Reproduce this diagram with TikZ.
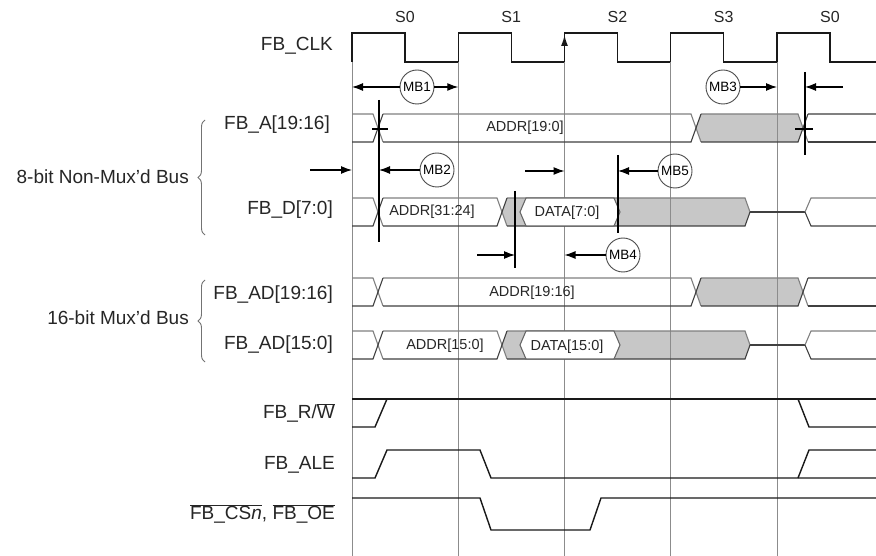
\documentclass[tikz,border=0pt]{standalone}
\usepackage{fontspec}
\setmainfont{Liberation Sans}
\usetikzlibrary{arrows.meta,decorations.pathreplacing}

\tikzset{
    wave/.style = {black!90, line width=1.4pt},
    gridline/.style = {black!45, line width=1pt},
    bus/.style = {black!75, line width=1.1pt},
    busgray/.style = {fill=black!22},
    meas/.style = {black, line width=1.2pt, -{Latex[length=11pt,width=8pt]}},
    markline/.style = {black, line width=1.3pt},
    mbcircle/.style = {shape=circle, draw=black!70, line width=0.9pt, minimum size=34pt, inner sep=0pt, font=\fontsize{13.5}{14}\selectfont},
    siglabel/.style = {anchor=east, inner sep=0pt, text=black!85, font=\fontsize{19}{21}\selectfont},
    buslabel/.style = {inner sep=0pt, text=black!85, font=\fontsize{14.5}{15}\selectfont},
    statelabel/.style = {inner sep=0pt, text=black!85, font=\fontsize{16}{16}\selectfont},
    bracket/.style = {black!55, line width=0.9pt, decorate, decoration={brace, amplitude=7pt}}
}

\begin{document}
\begin{tikzpicture}[x=1pt, y=-1pt]
    \path[fill=white, use as bounding box] (0,0) rectangle (876,556);

    % clock and bus states
    \draw[wave] (352,62) \foreach \i in {0,...,4} { -- ({352+106.25*\i},33) -- ({405+106.25*\i},33) -- ({405+106.25*\i},62) -- ({458.25+106.25*\i},62) };
    \foreach \s [count=\i from 0] in {S0,S1,S2,S3,S0}
        \node[statelabel] (s\i) at ({405+106.25*\i},17) {\s};
    \foreach \i in {0,...,4}
        \coordinate (e\i) at ({352+106.25*\i},62);

    % gray fills
    \foreach \yc in {128,292} {
        \fill[busgray] (696,\yc) -- (701,\yc-14) -- (798,\yc-14) -- (803,\yc) -- (798,\yc+14) -- (701,\yc+14) -- cycle;
    }
    \foreach \yc in {212,345} {
        \fill[busgray] (502,\yc) -- (507,\yc-14) -- (745,\yc-14) -- (750,\yc) -- (745,\yc+14) -- (507,\yc+14) -- cycle;
    }

    % grid at rising edges
    \foreach \i in {0,...,4}
        \draw[gridline] (e\i) -- ({352+106.25*\i},556);
    \draw[wave, -{Latex[length=11pt,width=7pt]}] (e2) -- ++(0,-27);

    % address buses
    \foreach \yc in {128,292} {
        \begin{scope}[shift={(0,\yc)}]
            \draw[bus, black!50] (352,-14) -- (373,-14) -- (383,14);
            \draw[bus, black!50] (383,-14) -- (691,-14) -- (701,14);
            \draw[bus, black!50] (701,-14) -- (798,-14) -- (808,14);
            \draw[bus, black!50] (808,-14) -- (876,-14);
            \draw[bus] (352,14) -- (373,14) -- (383,-14);
            \draw[bus] (383,14) -- (691,14) -- (701,-14);
            \draw[bus] (701,14) -- (798,14) -- (808,-14);
            \draw[bus] (808,14) -- (876,14);
        \end{scope}
    }
    % data buses
    \foreach \yc in {212,345} {
        \begin{scope}[shift={(0,\yc)}]
            \draw[bus, black!50] (352,-14) -- (373,-14) -- (383,14);
            \draw[bus, black!50] (383,-14) -- (497,-14) -- (507,14);
            \draw[bus, black!50] (507,-14) -- (745,-14) -- (750,0);
            \draw[bus] (352,14) -- (373,14) -- (383,-14);
            \draw[bus] (383,14) -- (497,14) -- (507,-14);
            \draw[bus] (507,14) -- (745,14) -- (750,0);
            \filldraw[bus, draw=black!60, fill=white] (520,0) -- (526,-14) -- (614,-14) -- (620,0) -- (614,14) -- (526,14) -- cycle;
            \draw[bus] (750,0) -- (805,0);
            \draw[bus, black!50] (805,0) -- (811,-14) -- (876,-14);
            \draw[bus] (805,0) -- (811,14) -- (876,14);
        \end{scope}
    }
    \node[buslabel] (addra) at (525,128) {ADDR[19:0]};
    \node[buslabel] (addrd) at (432,212) {ADDR[31:24]};
    \node[buslabel] (datad) at (567,213) {DATA[7:0]};
    \node[buslabel] (addrh) at (532,293) {ADDR[19:16]};
    \node[buslabel] (addrl) at (445,346) {ADDR[15:0]};
    \node[buslabel] (datal) at (567,347) {DATA[15:0]};

    % control lines
    \draw[wave] (352,399) -- (876,399);
    \draw[wave] (352,427) -- (375,427) -- (387,399);
    \draw[wave] (798,399) -- (809,427) -- (876,427);
    \draw[wave] (352,478) -- (375,478) -- (387,450) -- (480,450) -- (491,478) -- (876,478);
    \draw[wave] (798,478) -- (809,450) -- (876,450);
    \draw[wave] (352,498) -- (480,498) -- (491,530) -- (590,530) -- (601,498) -- (876,498);

    % signal names
    \node[siglabel] (clk) at (333,46) {FB\_CLK};
    \node[siglabel] (fba) at (330,125) {FB\_A[19:16]};
    \node[siglabel] (fbd) at (333,210) {FB\_D[7:0]};
    \node[siglabel] (fbadh) at (333,295) {FB\_AD[19:16]};
    \node[siglabel] (fbadl) at (333,345) {FB\_AD[15:0]};
    \node[siglabel] (rw) at (335,413) {FB\_R/$\overline{\mbox{W}}$};
    \node[siglabel] (ale) at (335,465) {FB\_ALE};
    \node[siglabel] (cs) at (335,514) {$\overline{\mbox{FB\_CS}\textit{n}}$, $\overline{\mbox{FB\_OE}}$};

    % bus groups
    \coordinate (b8top) at (205,120);
    \coordinate (b8bot) at (205,235);
    \draw[bracket] (b8bot) -- (b8top);
    \node[siglabel] (grp8) at (189,177) {8-bit Non-Mux'd Bus};
    \coordinate (b16top) at (205,280);
    \coordinate (b16bot) at (205,362);
    \draw[bracket] (b16bot) -- (b16top);
    \node[siglabel] (grp16) at (189,318) {16-bit Mux'd Bus};

    % timing marks
    \coordinate (va) at (379,100);
    \coordinate (vab) at (379,242);
    \draw[markline] (va) -- (vab);
    \draw[markline] (372,129) -- (388,129);
    \coordinate (vb) at (805,72);
    \coordinate (vbb) at (805,155);
    \draw[markline] (vb) -- (vbb);
    \draw[markline] (795,129) -- (813,129);
    \coordinate (vc) at (515,191);
    \coordinate (vcb) at (515,268);
    \draw[markline] (vc) -- (vcb);
    \coordinate (vd) at (618,155);
    \coordinate (vdb) at (618,233);
    \draw[markline] (vd) -- (vdb);

    \node[mbcircle] (mb1) at (417,87) {MB1};
    \draw[meas] (mb1) -- (mb1 -| e0);
    \draw[meas] (mb1) -- (mb1 -| e1);
    \node[mbcircle] (mb2) at (437,170) {MB2};
    \draw[meas] (mb2) -- (mb2 -| va);
    \coordinate (tail2) at (310,170);
    \draw[meas] (tail2) -- (tail2 -| e0);
    \node[mbcircle] (mb3) at (723,87) {MB3};
    \draw[meas] (mb3) -- (mb3 -| e4);
    \coordinate (tail3) at (843,87);
    \draw[meas] (tail3) -- (tail3 -| vb);
    \node[mbcircle] (mb4) at (623,255) {MB4};
    \draw[meas] (mb4) -- (mb4 -| e2);
    \coordinate (tail4) at (477,255);
    \draw[meas] (tail4) -- (tail4 -| vc);
    \node[mbcircle] (mb5) at (675,171) {MB5};
    \draw[meas] (mb5) -- (mb5 -| vd);
    \coordinate (tail5) at (525,171);
    \draw[meas] (tail5) -- (tail5 -| e2);
\end{tikzpicture}
\end{document}
